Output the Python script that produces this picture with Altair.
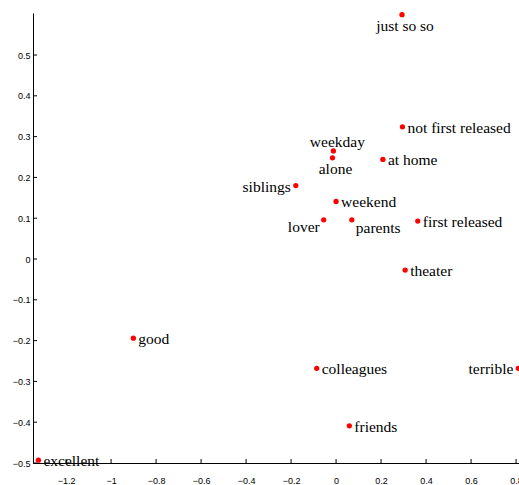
import altair as alt
import pandas as pd

# Word embedding coordinates (2-D projection)
words = ["just so so", "not first released", "weekday", "alone", "at home",
         "siblings", "weekend", "lover", "parents", "first released",
         "theater", "good", "colleagues", "terrible", "friends", "excellent"]
xs = [0.293, 0.295, -0.012, -0.016, 0.208, -0.179, 0.000, -0.055, 0.070, 0.363,
      0.307, -0.901, -0.086, 0.810, 0.059, -1.323]
ys = [0.599, 0.324, 0.265, 0.248, 0.244, 0.180, 0.141, 0.096, 0.096, 0.093,
      -0.027, -0.194, -0.268, -0.268, -0.409, -0.493]

x_ticks = [-1.2, -1.0, -0.8, -0.6, -0.4, -0.2, 0.0, 0.2, 0.4, 0.6, 0.8]
y_ticks = [-0.5, -0.4, -0.3, -0.2, -0.1, 0.0, 0.1, 0.2, 0.3, 0.4, 0.5]

# which side of the dot each label sits on
side = {
    "just so so": "below", "not first released": "right", "weekday": "above",
    "alone": "below", "at home": "right", "siblings": "left", "weekend": "right",
    "lover": "lowleft", "parents": "lowright", "first released": "right",
    "theater": "right", "good": "right", "colleagues": "right",
    "terrible": "left", "friends": "right", "excellent": "right",
}

df = pd.DataFrame({"word": words, "x": xs, "y": ys})
df["side"] = df["word"].map(side)

W, H = 486, 450
xdom = [-1.347, 0.813]
ydom = [-0.5, 0.603]

xscale = alt.Scale(domain=xdom, nice=False, zero=False)
yscale = alt.Scale(domain=ydom, nice=False, zero=False)

xaxis = alt.Axis(values=x_ticks, format="~g", ticks=False, grid=False,
                 domainColor="black", domainWidth=1, labelFont="Liberation Sans",
                 labelFontSize=9, labelColor="black", labelPadding=13,
                 title=None, labelFlush=False)
yaxis = alt.Axis(values=y_ticks, format="~g", ticks=False, grid=False,
                 domainColor="black", domainWidth=1, labelFont="Liberation Sans",
                 labelFontSize=9, labelColor="black", labelPadding=3,
                 title=None, labelFlush=False)

base = alt.Chart(df)

points = base.mark_circle(color="#ff0000", opacity=1, size=28).encode(
    x=alt.X("x:Q", scale=xscale, axis=xaxis),
    y=alt.Y("y:Q", scale=yscale, axis=yaxis),
)

placements = {
    "right": dict(align="left", dx=5, dy=1),
    "left": dict(align="right", dx=-5, dy=1),
    "above": dict(align="center", dx=4, dy=-9),
    "below": dict(align="center", dx=3, dy=11),
    "lowleft": dict(align="right", dx=-4, dy=7),
    "lowright": dict(align="left", dx=4, dy=8),
}

label_layers = []
for key, opts in placements.items():
    label_layers.append(
        base.transform_filter(alt.datum.side == key).mark_text(
            baseline="middle", font="Liberation Serif", fontSize=15.5,
            color="black", **opts
        ).encode(
            x=alt.X("x:Q", scale=xscale),
            y=alt.Y("y:Q", scale=yscale),
            text="word:N",
        )
    )

# inward tick marks along the two axes
xt = alt.Chart(pd.DataFrame({"t": x_ticks})).mark_rule(color="black", strokeWidth=1).encode(
    x=alt.X("t:Q", scale=xscale), y=alt.value(H), y2=alt.value(H - 4)
)
yt = alt.Chart(pd.DataFrame({"t": y_ticks})).mark_rule(color="black", strokeWidth=1).encode(
    y=alt.Y("t:Q", scale=yscale), x=alt.value(0), x2=alt.value(4)
)

chart = alt.layer(xt, yt, points, *label_layers).properties(
    width=W, height=H,
    autosize=alt.AutoSizeParams(type="none"),
    padding={"left": 33, "top": 13, "right": 0, "bottom": 22},
    background="white",
).configure_view(stroke=None)

chart.save("out.html", embed_options={"renderer": "svg", "actions": False})
